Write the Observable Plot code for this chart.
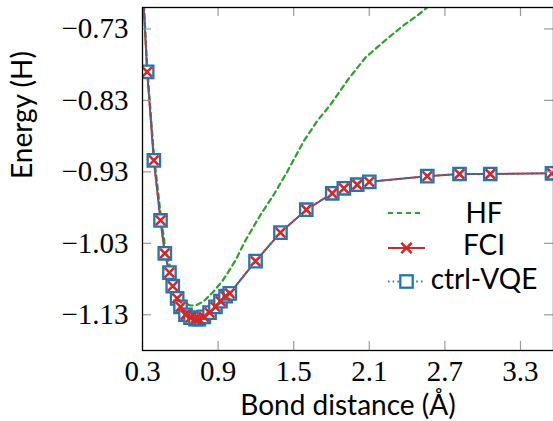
<!DOCTYPE html>
<html><head><meta charset="utf-8">
<script src="https://cdn.jsdelivr.net/npm/d3@7"></script>
<script src="https://cdn.jsdelivr.net/npm/@observablehq/plot@0.6"></script>
<style>
body{margin:0;background:#fff;}
#wrap{position:relative;width:553px;height:421px;overflow:hidden;}
#wrap svg{position:absolute;left:0;top:0;}
</style></head><body><div id="wrap"></div>
<script>
// Bond distances (Å) for FCI / ctrl-VQE
const bond = [0.30, 0.337, 0.390, 0.443, 0.477, 0.514, 0.540, 0.575, 0.602, 0.641, 0.681, 0.721, 0.748, 0.787, 0.832, 0.879, 0.919, 0.959, 0.993, 1.197, 1.395, 1.600, 1.806, 1.898, 2.004, 2.100, 2.560, 2.816, 3.060, 3.550];
const fciEnergy = [-0.665, -0.790, -0.914, -0.998, -1.044, -1.071, -1.090, -1.107, -1.119, -1.130, -1.134, -1.136, -1.136, -1.133, -1.127, -1.119, -1.111, -1.104, -1.100, -1.055, -1.015, -0.983, -0.960, -0.953, -0.948, -0.944, -0.936, -0.933, -0.933, -0.932];
const vqeEnergy = [-0.665, -0.790, -0.914, -0.998, -1.044, -1.071, -1.090, -1.107, -1.119, -1.130, -1.134, -1.136, -1.136, -1.133, -1.127, -1.119, -1.111, -1.104, -1.100, -1.055, -1.015, -0.983, -0.960, -0.953, -0.948, -0.944, -0.936, -0.933, -0.933, -0.932];
// Hartree-Fock curve
const hfBond = [0.30, 0.337, 0.390, 0.443, 0.477, 0.514, 0.540, 0.575, 0.602, 0.641, 0.681, 0.721, 0.787, 0.866, 0.933, 0.985, 1.038, 1.117, 1.237, 1.342, 1.448, 1.580, 1.686, 1.792, 1.935, 2.070, 2.213, 2.371, 2.483, 2.600];
const hfEnergy = [-0.659, -0.783, -0.906, -0.988, -1.033, -1.059, -1.077, -1.093, -1.104, -1.114, -1.117, -1.117, -1.111, -1.097, -1.083, -1.069, -1.054, -1.026, -0.990, -0.962, -0.930, -0.887, -0.859, -0.836, -0.800, -0.770, -0.748, -0.725, -0.711, -0.694];

const xTicks = [0.3, 0.9, 1.5, 2.1, 2.7, 3.3];
const yTicks = [-1.13, -1.03, -0.93, -0.83, -0.73];
const seriesNames = ["HF", "FCI", "ctrl-VQE"];
const seriesColors = ["#2ca02c", "#d62728", "#1f77b4"];
const xLabel = "Bond distance (Å)";
const yLabel = "Energy (H)";

const hf = hfBond.map((b, i) => ({bond: b, energy: hfEnergy[i]}));
const fci = bond.map((b, i) => ({bond: b, energy: fciEnergy[i]}));
const vqe = bond.map((b, i) => ({bond: b, energy: vqeEnergy[i]}));

const W = 553, H = 421, mL = 142, mR = 0, mT = 7, mB = 71;
const fw = W - mL - mR, fh = H - mT - mB, tl = 9;
const serif = "Liberation Serif";
const sans = "Lato";
const fmtX = d => d.toFixed(1);
const fmtY = d => (d < 0 ? "\u2212" : "") + Math.abs(d).toFixed(2);
const tickColor = "#9a9a9a";
const dotted = "1.5,3.2";

const chart = Plot.plot({
  width: W, height: H,
  marginLeft: mL, marginRight: mR, marginTop: mT, marginBottom: mB,
  x: {domain: [0.3, 3.562], axis: null},
  y: {domain: [-1.18, -0.70], axis: null},
  style: {background: "white", overflow: "visible"},
  marks: [
    Plot.line(hf, {x: "bond", y: "energy", stroke: seriesColors[0], strokeWidth: 2.2, strokeDasharray: "5,4", clip: true}),
    Plot.line(fci, {x: "bond", y: "energy", stroke: seriesColors[1], strokeWidth: 2, clip: true}),
    Plot.line(vqe, {x: "bond", y: "energy", stroke: seriesColors[2], strokeWidth: 1.8, strokeDasharray: dotted, clip: true}),
    Plot.dot(vqe, {x: "bond", y: "energy", symbol: "square", r: 7, stroke: seriesColors[2], strokeWidth: 2.3, fill: "white", clip: true}),
    Plot.dot(fci, {x: "bond", y: "energy", symbol: "times", r: 4.4, stroke: seriesColors[1], strokeWidth: 2.6, clip: true}),
    // inward ticks on all four sides
    Plot.tickX(xTicks, {x: d => d, insetTop: fh - tl, stroke: tickColor, strokeWidth: 1.2}),
    Plot.tickX(xTicks, {x: d => d, insetBottom: fh - tl, stroke: tickColor, strokeWidth: 1.2}),
    Plot.tickY(yTicks, {y: d => d, insetRight: fw - tl, stroke: tickColor, strokeWidth: 1.2}),
    Plot.tickY(yTicks, {y: d => d, insetLeft: fw - tl, stroke: tickColor, strokeWidth: 1.2}),
    // tick labels (serif, like the LaTeX original)
    Plot.text(xTicks, {x: d => d, frameAnchor: "bottom", dy: 21, text: fmtX, lineAnchor: "middle", fontSize: 29, fontFamily: serif, fill: "black"}),
    Plot.text(yTicks, {y: d => d, frameAnchor: "left", dx: -14, text: fmtY, textAnchor: "end", lineAnchor: "middle", fontSize: 29, fontFamily: serif, fill: "black"}),
    // axis titles
    Plot.text([xLabel], {frameAnchor: "bottom", dy: 56, text: d => d, fontSize: 28, fontFamily: sans, fill: "black", lineAnchor: "middle"}),
    Plot.text([yLabel], {frameAnchor: "left", dx: -119, text: d => d, rotate: -90, fontSize: 28, fontFamily: sans, fill: "black", lineAnchor: "middle"}),
    Plot.frame({stroke: "black", strokeWidth: 1.3})
  ]
});
// make sure the tick labels really use the serif face
const tickTexts = new Set([...xTicks.map(fmtX), ...yTicks.map(fmtY)]);
chart.querySelectorAll("text").forEach(t => {
  const s = t.textContent.trim();
  const fam = tickTexts.has(s) ? "'Liberation Serif', serif" : "Lato, sans-serif";
  t.style.setProperty("font-family", fam, "important");
});
const wrap = document.getElementById("wrap");
wrap.appendChild(chart);

// Legend overlay (inside the plot area, no border)
const lg = d3.select(wrap).append("svg").attr("width", W).attr("height", H).style("pointer-events", "none");
const rows = [
  {name: seriesNames[0], color: seriesColors[0], ly: 213, ty: 213, dash: "5,4", marker: null, x2: 421, sw: 2.2},
  {name: seriesNames[1], color: seriesColors[1], ly: 248, ty: 245, dash: null, marker: "times", x2: 425, sw: 2},
  {name: seriesNames[2], color: seriesColors[2], ly: 281.5, ty: 279, dash: dotted, marker: "square", x2: 425, sw: 1.8}
];
const x0 = 388, xm = 406.5, tx = 484;
rows.forEach(r => {
  const g = lg.append("g");
  g.append("line").attr("x1", x0).attr("x2", r.x2)
    .attr("y1", r.ly).attr("y2", r.ly).attr("stroke", r.color).attr("stroke-width", r.sw)
    .attr("stroke-dasharray", r.dash);
  if (r.marker === "square") {
    g.append("rect").attr("x", xm - 6.2).attr("y", r.ly - 6.2).attr("width", 12.4).attr("height", 12.4)
      .attr("fill", "white").attr("stroke", r.color).attr("stroke-width", 2.3);
  } else if (r.marker === "times") {
    const s = 5.2;
    g.append("path").attr("d", `M${xm - s},${r.ly - s}L${xm + s},${r.ly + s}M${xm - s},${r.ly + s}L${xm + s},${r.ly - s}`)
      .attr("stroke", r.color).attr("stroke-width", 2.6);
  }
  g.append("text").attr("x", tx).attr("y", r.ty).attr("dy", "0.36em").attr("text-anchor", "middle")
    .style("font-family", "Lato, sans-serif").attr("font-size", 28).attr("fill", "black").text(r.name);
});
</script>
</body></html>
